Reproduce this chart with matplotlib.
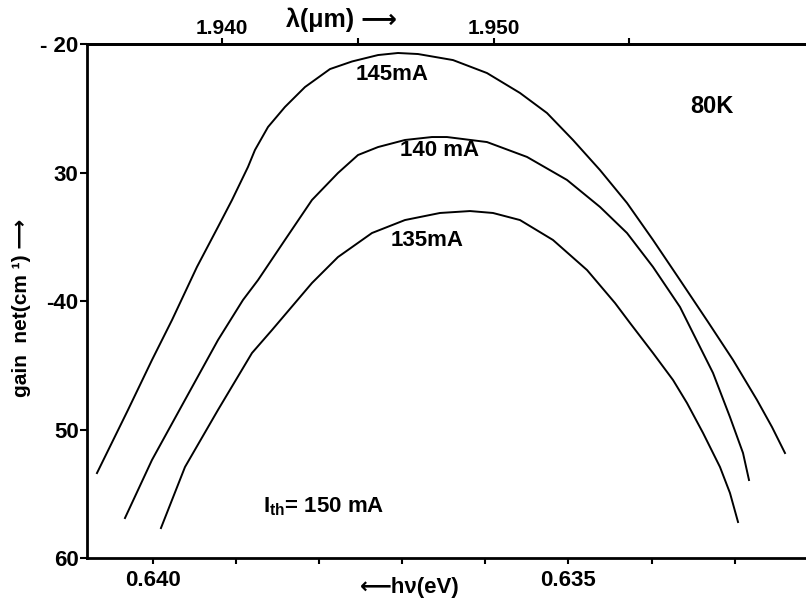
import matplotlib
matplotlib.use("Agg")
import matplotlib.pyplot as plt

# ---- data (photon energy in eV, net gain in cm^-1) ----
energy_145 = [0.640674, 0.640301, 0.640012, 0.639771, 0.639471, 0.639218, 0.639049, 0.638857,
              0.638773, 0.638616, 0.638412, 0.638171, 0.637870, 0.637605, 0.637292, 0.637052,
              0.636811, 0.636390, 0.635981, 0.635584, 0.635259, 0.634946, 0.634621, 0.634296,
              0.633983, 0.633658, 0.633321, 0.633020, 0.632732, 0.632551, 0.632395]
gain_145 = [-53.39, -48.48, -44.59, -41.48, -37.35, -34.24, -32.14, -29.57,
            -28.25, -26.46, -24.90, -23.35, -21.95, -21.36, -20.86, -20.70,
            -20.78, -21.25, -22.26, -23.81, -25.37, -27.47, -29.81, -32.37,
            -35.25, -38.37, -41.63, -44.59, -47.70, -49.81, -51.83]

energy_140 = [0.640337, 0.640012, 0.639615, 0.639218, 0.638917, 0.638736, 0.638412, 0.638087,
              0.637774, 0.637533, 0.637292, 0.636968, 0.636643, 0.636462, 0.635981, 0.635499,
              0.635018, 0.634621, 0.634296, 0.633983, 0.633658, 0.633502, 0.633261, 0.633057,
              0.632900, 0.632828]
gain_140 = [-56.89, -52.37, -47.70, -43.04, -39.92, -38.37, -35.25, -32.14,
            -30.04, -28.64, -28.02, -27.47, -27.24, -27.24, -27.63, -28.79,
            -30.58, -32.68, -34.71, -37.35, -40.47, -42.49, -45.60, -49.03,
            -51.83, -53.93]

energy_135 = [0.639904, 0.639615, 0.639218, 0.638809, 0.638568, 0.638087, 0.637774,
              0.637365, 0.636968, 0.636546, 0.636185, 0.635909, 0.635584, 0.635187, 0.634777,
              0.634440, 0.634260, 0.633983, 0.633742, 0.633574, 0.633381, 0.633177, 0.633057,
              0.632960]
gain_135 = [-57.67, -52.92, -48.48, -44.05, -42.26, -38.60, -36.58,
            -34.71, -33.70, -33.15, -33.00, -33.15, -33.70, -35.25, -37.59,
            -40.16, -41.71, -44.05, -46.15, -47.94, -50.27, -52.92, -54.94,
            -57.20]

curve_labels = ["145mA", "140 mA", "135mA"]

y_ticks = [-20, -30, -40, -50, -60]
y_tick_labels = ["- 20", "30", "-40", "50", "60"]
x_ticks = [0.640, 0.639, 0.638, 0.637, 0.636, 0.635, 0.634, 0.633]
x_tick_labels = ["0.640", "", "", "", "", "0.635", "", ""]
lam_ticks = [1.940, 1.945, 1.950, 1.955]
lam_tick_labels = ["1.940", "", "1.950", ""]

# ---- style ----
plt.rcParams['font.family'] = ['Liberation Sans', 'DejaVu Sans']
plt.rcParams['font.weight'] = 'bold'
plt.rcParams['mathtext.fontset'] = 'custom'
plt.rcParams['mathtext.rm'] = 'Liberation Sans:bold'
plt.rcParams['mathtext.bf'] = 'Liberation Sans:bold'
plt.rcParams['mathtext.it'] = 'Liberation Sans:bold'
plt.rcParams['mathtext.default'] = 'bf'

W, H = 806, 599
fig = plt.figure(figsize=(W / 100, H / 100), dpi=100)
ax = fig.add_axes([87 / W, 1 - 558 / H, 1 - 87 / W, (558 - 44) / H])

for E, g in [(energy_145, gain_145), (energy_140, gain_140), (energy_135, gain_135)]:
    ax.plot(E, g, color='black', lw=1.4, solid_joinstyle='round')

ax.set_xlim(0.640794, 0.632142)
ax.set_ylim(-60, -20)

ax.spines['right'].set_visible(False)
for s in ['left', 'top', 'bottom']:
    ax.spines[s].set_linewidth(2)

ax.set_yticks(y_ticks)
ax.set_yticklabels(y_tick_labels, fontsize=16, fontweight='bold')
ax.tick_params(axis='y', direction='out', length=5, width=1.5, pad=1)

ax.set_xticks(x_ticks)
ax.set_xticklabels(x_tick_labels, fontsize=16, fontweight='bold')
ax.tick_params(axis='x', direction='out', length=4, width=1.5, pad=5)

HC = 1.24
secax = ax.secondary_xaxis('top', functions=(lambda e: HC / e, lambda l: HC / l))
secax.set_xticks(lam_ticks)
secax.set_xticklabels(lam_tick_labels, fontsize=15, fontweight='bold')
secax.tick_params(direction='out', length=4, width=1.5, pad=0)
secax.spines['top'].set_linewidth(2)


def ftext(px, py, s, **kw):
    fig.text(px / W, 1 - py / H, s, ha='center', va='center', fontweight='bold', **kw)


ftext(392, 75, curve_labels[0], fontsize=16)
ftext(440, 150, curve_labels[1], fontsize=16)
ftext(427, 240, curve_labels[2], fontsize=16)
ftext(712, 107, "80K", fontsize=17)
ftext(324, 507, "I$_{th}$= 150 mA", fontsize=16)
ftext(341, 20, "λ(μm) ⟶", fontsize=18)
ftext(410, 588, "⟵hν(eV)", fontsize=16)
ftext(22, 308, "gain  net(cm ¹) ⟶", fontsize=15, rotation=90)

fig.savefig("out.png", dpi=100, facecolor='white')
